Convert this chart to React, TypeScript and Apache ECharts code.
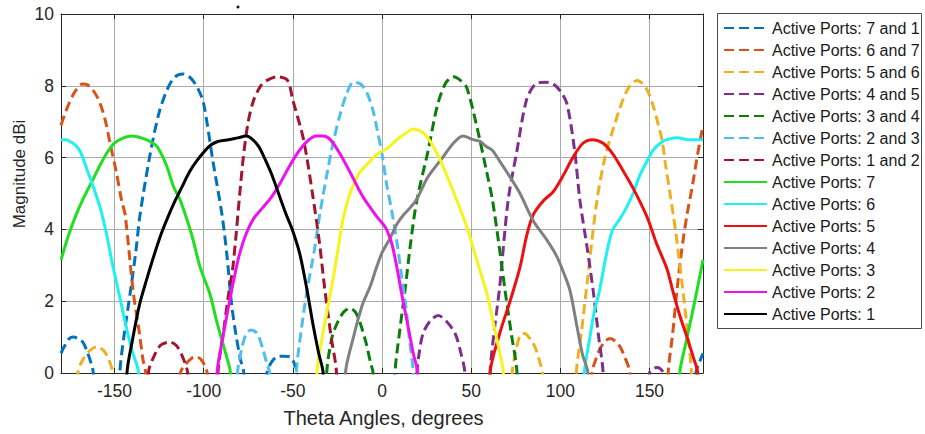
import React, { useEffect, useRef } from "react";
import * as echarts from "echarts";

// Tick positions and axis ranges
const xTicks = [-150, -100, -50, 0, 50, 100, 150];
const xRange = [-180, 180];
const yRange = [0, 10];
const yStep = 2;

// Legend labels, in plotting order
const seriesNames = [
  "Active Ports: 7 and 1",
  "Active Ports: 6 and 7",
  "Active Ports: 5 and 6",
  "Active Ports: 4 and 5",
  "Active Ports: 3 and 4",
  "Active Ports: 2 and 3",
  "Active Ports: 1 and 2",
  "Active Ports: 7",
  "Active Ports: 6",
  "Active Ports: 5",
  "Active Ports: 4",
  "Active Ports: 3",
  "Active Ports: 2",
  "Active Ports: 1",
];

// Gain patterns: [theta in degrees, magnitude in dBi]; negative values fall below the 0 dBi floor
const ports71 = [
  [-180, 0.55], [-178, 0.75], [-175.5, 0.95], [-173, 1.0], [-170, 0.95], [-167.6, 0.85], [-165, 0.55], [-163, 0.25], [-161.9, 0], [-160, -4], [-149, -4],
  [-147, 0], [-144.5, 1.1], [-141, 2.3], [-138, 3.4], [-135.7, 4.4], [-130, 6.1], [-125, 7.25], [-120, 7.95], [-116, 8.25], [-111.6, 8.33], [-107, 8.2],
  [-103, 7.9], [-100, 7.5], [-94.8, 5.9], [-89.7, 4.4], [-87, 3.3], [-84.3, 1.9], [-82, 1.1], [-79.5, 0.4], [-77.5, 0], [-75.5, -4], [-66.5, -4],
  [-64.5, 0], [-62, 0.3], [-59, 0.45], [-55, 0.47], [-51.6, 0.45], [-49.5, 0.3], [-47.5, 0], [-45.5, -4], [174, -4], [176, 0], [178, 0.3], [180, 0.55],
];
const ports67 = [
  [-180, 6.9], [-176, 7.45], [-172, 7.85], [-168, 8.05], [-165, 8.02], [-161, 7.8], [-158, 7.5], [-155, 7.0], [-152.5, 6.4], [-149, 5.6],
  [-146, 4.8], [-144, 4.4], [-139.6, 2.3], [-136, 1.1], [-134, 0.36], [-132.5, 0], [-130.5, -4], [-115, -4],
  [-113, 0], [-110, 0.25], [-106.5, 0.42], [-104, 0.45], [-101, 0.35], [-99, 0.15], [-98, 0], [-96, -4], [115.8, -4],
  [117.8, 0], [120, 0.4], [122, 0.65], [125, 0.88], [128, 0.96], [131, 0.88], [133.5, 0.73], [136.5, 0.4], [139, 0], [141, -4], [158.5, -4],
  [160.5, 0], [163, 1.1], [165.4, 2.3], [168, 3.4], [171, 4.4], [174, 5.2], [177, 6.1], [180, 6.9],
];
const ports56 = [
  [-180, -4], [-172.5, -4], [-170.5, 0], [-168, 0.35], [-164, 0.62], [-160, 0.73], [-156, 0.62], [-153, 0.35], [-151, 0], [-149, -4],
  [71, -4], [73, 0], [75, 0.6], [77.5, 1.05], [80, 1.1], [83, 0.95], [86, 0.7], [88.5, 0.3], [90, 0], [92, -4], [107, -4],
  [109, 0], [112, 1.2], [115, 2.5], [120.5, 4.8], [125, 6.0], [129, 6.7], [135, 7.6], [139, 8.0], [143, 8.15], [148, 7.95],
  [152, 7.45], [155, 6.9], [157, 6.5], [159, 5.8], [161.5, 5.0], [164.5, 4.0], [168, 2.6], [171, 1.3], [173.5, 0], [175.5, -4], [180, -4],
];
const ports45 = [
  [-180, -4], [17.6, -4], [19.6, 0], [21, 0.6], [23, 1.1], [27, 1.45], [31.5, 1.6], [36, 1.45], [41, 1.1], [44, 0.6], [46.5, 0], [48.5, -4],
  [58.6, -4], [60.6, 0], [63, 1.2], [66, 2.4], [70.7, 4.8], [75.7, 6.2], [81, 7.6], [86, 8.05], [91.4, 8.1], [96, 8.05], [100, 7.85],
  [103.7, 7.5], [108, 6.2], [111, 4.8], [115, 3.5], [118.4, 2.3], [121.5, 1.0], [124, 0], [126, -4], [148, -4],
  [150, 0], [152, 0.12], [154, 0.15], [156, 0.12], [157.6, 0], [159.6, -4], [180, -4],
];
const ports34 = [
  [-180, -4], [-33, -4], [-31, 0], [-28, 1.0], [-25, 1.4], [-21.5, 1.7], [-18, 1.8], [-15, 1.7], [-12.3, 1.4], [-9, 0.85], [-6.5, 0.3], [-5, 0], [-3, -4],
  [5.3, -4], [7.3, 0], [10, 1.2], [12.9, 2.3], [16, 3.6], [19.5, 4.8], [25.9, 6.2], [30.8, 7.4], [35.4, 8.05], [40, 8.25], [44, 8.15], [47.5, 7.95],
  [53, 6.9], [58.7, 5.6], [62, 4.8], [65.5, 3.6], [69, 2.3], [72.5, 1.1], [75.7, 0], [77.7, -4], [180, -4],
];
const ports23 = [
  [-180, -4], [-83, -4], [-81, 0], [-79, 0.6], [-76.5, 1.05], [-73.5, 1.2], [-70, 1.1], [-67, 0.7], [-64.5, 0.25], [-63, 0], [-61, -4], [-50, -4],
  [-48, 0], [-45, 1.3], [-42, 2.3], [-38, 3.4], [-34.8, 4.45], [-31, 5.5], [-27.5, 6.4], [-23.5, 7.2], [-20, 7.75], [-16, 8.1], [-12, 8.05],
  [-8.4, 7.8], [-5, 7.3], [-2.8, 6.8], [0, 6.1], [2.8, 5.2], [5.5, 4.5], [8.5, 3.6], [11, 2.7], [13.5, 1.8], [15.5, 0.9], [17.5, 0], [19.5, -4], [180, -4],
];
const ports12 = [
  [-180, -4], [-133, -4], [-131, 0], [-128, 0.45], [-124, 0.78], [-119, 0.86], [-115, 0.75], [-111, 0.35], [-109, 0], [-107, -4], [-94, -4],
  [-92, 0], [-89, 1.1], [-86, 2.2], [-83.5, 3.0], [-78, 5.9], [-75, 7.0], [-72, 7.6], [-68, 8.0], [-64.5, 8.15], [-59, 8.25], [-53, 8.15],
  [-50, 7.6], [-44, 6.5], [-38.7, 4.9], [-35, 3.6], [-32, 2.3], [-28.5, 1.0], [-25.5, 0], [-23.5, -4], [180, -4],
];
const port7 = [
  [-180, 3.15], [-176, 3.8], [-172, 4.35], [-167.6, 4.85], [-163, 5.3], [-158, 5.8], [-154, 6.15], [-150, 6.4], [-145, 6.55], [-140, 6.6],
  [-135, 6.55], [-130, 6.45], [-126, 6.3], [-121, 5.8], [-117, 5.2], [-115, 5.0], [-113, 4.8], [-107, 3.9], [-102, 2.95], [-96.5, 2.2],
  [-92.5, 1.4], [-88, 0.6], [-85, 0], [-83, -4], [165, -4], [167, 0], [170, 0.75], [173.5, 1.55], [176.6, 2.3], [180, 3.15],
];
const port6 = [
  [-180, 6.5], [-177, 6.5], [-175, 6.45], [-172, 6.35], [-169, 6.15], [-166, 5.75], [-162, 5.2], [-158, 4.6], [-154.6, 3.9], [-151, 3.0],
  [-147, 2.1], [-143.5, 1.3], [-140, 0.6], [-136.5, 0], [-134.5, -4], [111.5, -4], [113.5, 0], [116.6, 1.0], [119, 1.7], [122, 2.3], [125, 3.1],
  [129, 3.95], [133.5, 4.3], [137, 4.6], [140.8, 5.0], [144.5, 5.5], [148.6, 5.9], [152, 6.2], [156, 6.4], [159.7, 6.5], [165.4, 6.55],
  [172, 6.5], [180, 6.5],
];
const port5 = [
  [-180, -4], [58.6, -4], [60.6, 0], [66, 1.1], [71.8, 2.0], [77.4, 2.95], [81, 3.8], [84.7, 4.4], [90.5, 4.8], [96, 5.05], [101.6, 5.5],
  [107, 6.0], [112.7, 6.4], [118, 6.5], [124, 6.4], [129.5, 6.1], [135, 5.65], [140.8, 5.15], [148.6, 4.35], [154, 3.6], [159.8, 2.9],
  [163, 2.3], [167, 1.6], [171, 1.0], [174.5, 0.45], [177, 0], [179, -4], [180, -4],
];
const port4 = [
  [-180, -4], [-22.5, -4], [-20.5, 0], [-16, 1.0], [-11, 1.9], [-6.7, 2.4], [-3, 2.95], [0, 3.35], [4.5, 3.75], [8.4, 4.15], [12, 4.4],
  [15.7, 4.6], [19.6, 4.85], [25, 5.4], [30, 5.75], [34, 6.0], [40, 6.4], [45.4, 6.6], [51, 6.5], [55, 6.45], [58.7, 6.3], [62, 6.2],
  [66, 5.9], [71.8, 5.46], [77.4, 5.0], [84.7, 4.25], [92.5, 3.7], [98, 3.25], [101.8, 2.8], [105.4, 2.3], [109.3, 1.3], [112.5, 0.5],
  [115.5, 0], [117.5, -4], [180, -4],
];
const port3 = [
  [-180, -4], [-38.5, -4], [-36.5, 0], [-33.5, 1.0], [-30.5, 1.8], [-27.5, 2.6], [-24.5, 3.5], [-21.8, 4.3], [-18, 5.0], [-15, 5.35],
  [-12.3, 5.6], [-6.7, 5.9], [-2.8, 6.1], [2.8, 6.25], [8.4, 6.5], [14, 6.7], [17.4, 6.8], [21, 6.75], [24, 6.65], [27, 6.45], [30, 6.2],
  [32.5, 5.95], [36.4, 5.5], [42, 4.8], [45.5, 4.35], [49, 3.85], [54, 3.0], [58.9, 2.2], [62, 1.5], [65, 0.8], [68, 0], [70, -4], [180, -4],
];
const port2 = [
  [-180, -4], [-94.5, -4], [-92.5, 0], [-90, 0.8], [-87, 1.6], [-83.5, 2.5], [-80, 3.3], [-76, 3.9], [-72, 4.3], [-67, 4.6], [-62, 4.9],
  [-57, 5.3], [-52, 5.75], [-47, 6.15], [-42, 6.45], [-37, 6.6], [-33, 6.6], [-29, 6.5], [-23.5, 6.1], [-18, 5.6], [-10.6, 4.9],
  [-2.8, 4.35], [2, 4.05], [5.5, 3.6], [8.5, 2.9], [11.8, 2.0], [15, 1.2], [17.5, 0.55], [20, 0], [22, -4], [180, -4],
];
const port1 = [
  [-180, -4], [-145, -4], [-143, 0], [-140, 0.9], [-136, 1.9], [-132, 2.6], [-128, 3.25], [-124, 3.85], [-120, 4.35], [-116, 4.8],
  [-112, 5.2], [-108, 5.6], [-104, 5.9], [-100, 6.15], [-96, 6.35], [-92, 6.45], [-86, 6.5], [-81, 6.55], [-76, 6.6], [-72.5, 6.5],
  [-69, 6.3], [-66, 6.0], [-62, 5.55], [-58, 5.0], [-54, 4.45], [-50, 3.95], [-46, 3.3], [-42, 2.3], [-38.5, 1.3], [-35.5, 0.55],
  [-33, 0], [-31, -4], [180, -4],
];

const seriesData = [
  ports71, ports67, ports56, ports45, ports34, ports23, ports12,
  port7, port6, port5, port4, port3, port2, port1,
];

// Line colours and dash flags, same order as seriesNames
const lineColors = [
  "#0072bd", "#d95319", "#edb120", "#7e2f8e", "#0a7d0a", "#4dbeee", "#a2142f",
  "#1fe01f", "#1ff0f0", "#ee1010", "#808080", "#f5f51c", "#ee10ee", "#000000",
];
const dashedFlags = [true, true, true, true, true, true, true, false, false, false, false, false, false, false];

const FONT = "'Liberation Sans', Arial, Helvetica, sans-serif";
const INK = "#262626";

export default function App() {
  const ref = useRef<HTMLDivElement>(null);

  useEffect(() => {
    if (!ref.current) return;
    const chart = echarts.init(ref.current, null, { renderer: "svg" });

    const series = seriesNames.map((name, i) => ({
      name,
      type: "line",
      xAxisIndex: 0,
      yAxisIndex: 0,
      data: seriesData[i],
      showSymbol: false,
      symbol: "none",
      smooth: 0.3,
      clip: true,
      silent: true,
      lineStyle: {
        color: lineColors[i],
        width: 3,
        type: dashedFlags[i] ? [10, 5] : "solid",
      },
      itemStyle: { color: lineColors[i] },
      emphasis: { disabled: true },
    }));

    const boxLine = { show: true, onZero: false, lineStyle: { color: INK, width: 1 } };
    const innerTick = { show: true, inside: true, length: 5, lineStyle: { color: INK } };

    chart.setOption({
      animation: false,
      grid: { left: 61, top: 14, width: 642, height: 359, containLabel: false },
      xAxis: [
        {
          type: "value",
          min: xRange[0],
          max: xRange[1],
          axisLine: boxLine,
          axisTick: { ...innerTick, customValues: xTicks },
          axisLabel: {
            customValues: xTicks,
            color: INK,
            fontSize: 17.5,
            fontFamily: FONT,
            margin: 9,
          },
          splitLine: { show: true, lineStyle: { color: "#aaaaaa", width: 1 } },
        },
        {
          type: "value",
          position: "top",
          min: xRange[0],
          max: xRange[1],
          axisLine: boxLine,
          axisTick: { ...innerTick, customValues: xTicks },
          axisLabel: { show: false },
          splitLine: { show: false },
        },
      ],
      yAxis: [
        {
          type: "value",
          min: yRange[0],
          max: yRange[1],
          interval: yStep,
          axisLine: boxLine,
          axisTick: innerTick,
          axisLabel: { color: INK, fontSize: 17.5, fontFamily: FONT, margin: 7 },
          splitLine: { show: true, lineStyle: { color: "#aaaaaa", width: 1 } },
        },
        {
          type: "value",
          position: "right",
          min: yRange[0],
          max: yRange[1],
          interval: yStep,
          axisLine: boxLine,
          axisTick: innerTick,
          axisLabel: { show: false },
          splitLine: { show: false },
        },
      ],
      legend: {
        orient: "vertical",
        left: 723,
        top: 20,
        padding: 0,
        itemWidth: 43,
        itemHeight: 14,
        itemGap: 6,
        selectedMode: false,
        data: seriesNames,
        itemStyle: { opacity: 0 },
        textStyle: { color: "#1a1a1a", fontSize: 16, fontFamily: FONT, lineHeight: 16 },
      },
      graphic: [
        {
          type: "rect",
          shape: { x: 717.5, y: 13.5, width: 204, height: 315 },
          style: { fill: "none", stroke: "#4a4a4a", lineWidth: 1 },
          z: -1,
        },
        {
          type: "text",
          x: 383.5,
          y: 418,
          style: {
            text: "Theta Angles, degrees",
            fill: INK,
            font: `20px ${FONT}`,
            align: "center",
            verticalAlign: "middle",
          },
        },
        {
          type: "text",
          x: 19,
          y: 174,
          rotation: Math.PI / 2,
          style: {
            text: "Magnitude dBi",
            fill: INK,
            font: `17px ${FONT}`,
            align: "center",
            verticalAlign: "middle",
          },
        },
        {
          type: "circle",
          shape: { cx: 238, cy: 7, r: 1.5 },
          style: { fill: "#111" },
        },
      ],
      series,
    });

    return () => chart.dispose();
  }, []);

  return (
    <div
      ref={ref}
      style={{ position: "fixed", left: 0, top: 0, width: 925, height: 434, background: "#fff" }}
    />
  );
}
